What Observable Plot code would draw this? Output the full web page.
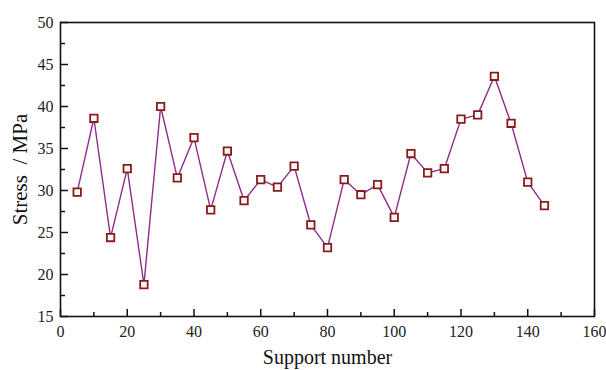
<!DOCTYPE html>
<html><head><meta charset="utf-8">
<script src="https://cdn.jsdelivr.net/npm/d3@7"></script>
<script src="https://cdn.jsdelivr.net/npm/@observablehq/plot@0.6"></script>
<style>body{margin:0;background:#fff}</style>
</head><body><div id="chart"></div>
<script>
const support = [5,10,15,20,25,30,35,40,45,50,55,60,65,70,75,80,85,90,95,100,105,110,115,120,125,130,135,140,145];
const stress = [29.8,38.6,24.4,32.6,18.8,40.0,31.5,36.3,27.7,34.7,28.8,31.3,30.4,32.9,25.9,23.2,31.3,29.5,30.7,26.8,34.4,32.1,32.6,38.5,39.0,43.6,38.0,31.0,28.2];
const xTicks = [0,20,40,60,80,100,120,140,160];
const xMinor = [10,30,50,70,90,110,130,150];
const yTicks = [15,20,25,30,35,40,45,50];
const yMinor = [17.5,22.5,27.5,32.5,37.5,42.5,47.5];
const data = support.map((s,i)=>({s, v: stress[i]}));

const chart = Plot.plot({
  width: 606, height: 370,
  marginLeft: 60, marginRight: 12, marginTop: 22, marginBottom: 54,
  style: {fontFamily: "'Liberation Serif', 'Times New Roman', serif", fontSize: "16px", color: "#222", background: "#fff"},
  x: {domain: [0,160]},
  y: {domain: [15,50]},
  marks: [
    Plot.axisX(xTicks, {tickSize: 0, tickPadding: 9, fontSize: 16, label: null}),
    Plot.axisY(yTicks, {tickSize: 0, tickPadding: 7, fontSize: 16, label: null}),
    Plot.ruleX(xTicks, {x: d => d, y1: 15, y2: 15.84, stroke: "#111", strokeWidth: 1.5}),
    Plot.ruleX(xMinor, {x: d => d, y1: 15, y2: 15.48, stroke: "#111", strokeWidth: 1.5}),
    Plot.ruleY(yTicks, {y: d => d, x1: 0, x2: 2.4, stroke: "#111", strokeWidth: 1.5}),
    Plot.ruleY(yMinor, {y: d => d, x1: 0, x2: 1.5, stroke: "#111", strokeWidth: 1.5}),
    Plot.frame({stroke: "#111", strokeWidth: 1.6}),
    Plot.line(data, {x: "s", y: "v", stroke: "#8E2C8E", strokeWidth: 1.4}),
    Plot.dot(data, {x: "s", y: "v", symbol: "square", r: 4.2, fill: "#fff", stroke: "#8B1A1A", strokeWidth: 1.8}),
    Plot.text(["Support number"], {frameAnchor: "bottom", dy: 47, fontSize: 20, fill: "#111"}),
    Plot.text(["Stress  / MPa"], {frameAnchor: "left", textAnchor: "middle", dx: -40, rotate: -90, fontSize: 21, fill: "#111"})
  ]
});
document.getElementById("chart").appendChild(chart);
</script></body></html>
